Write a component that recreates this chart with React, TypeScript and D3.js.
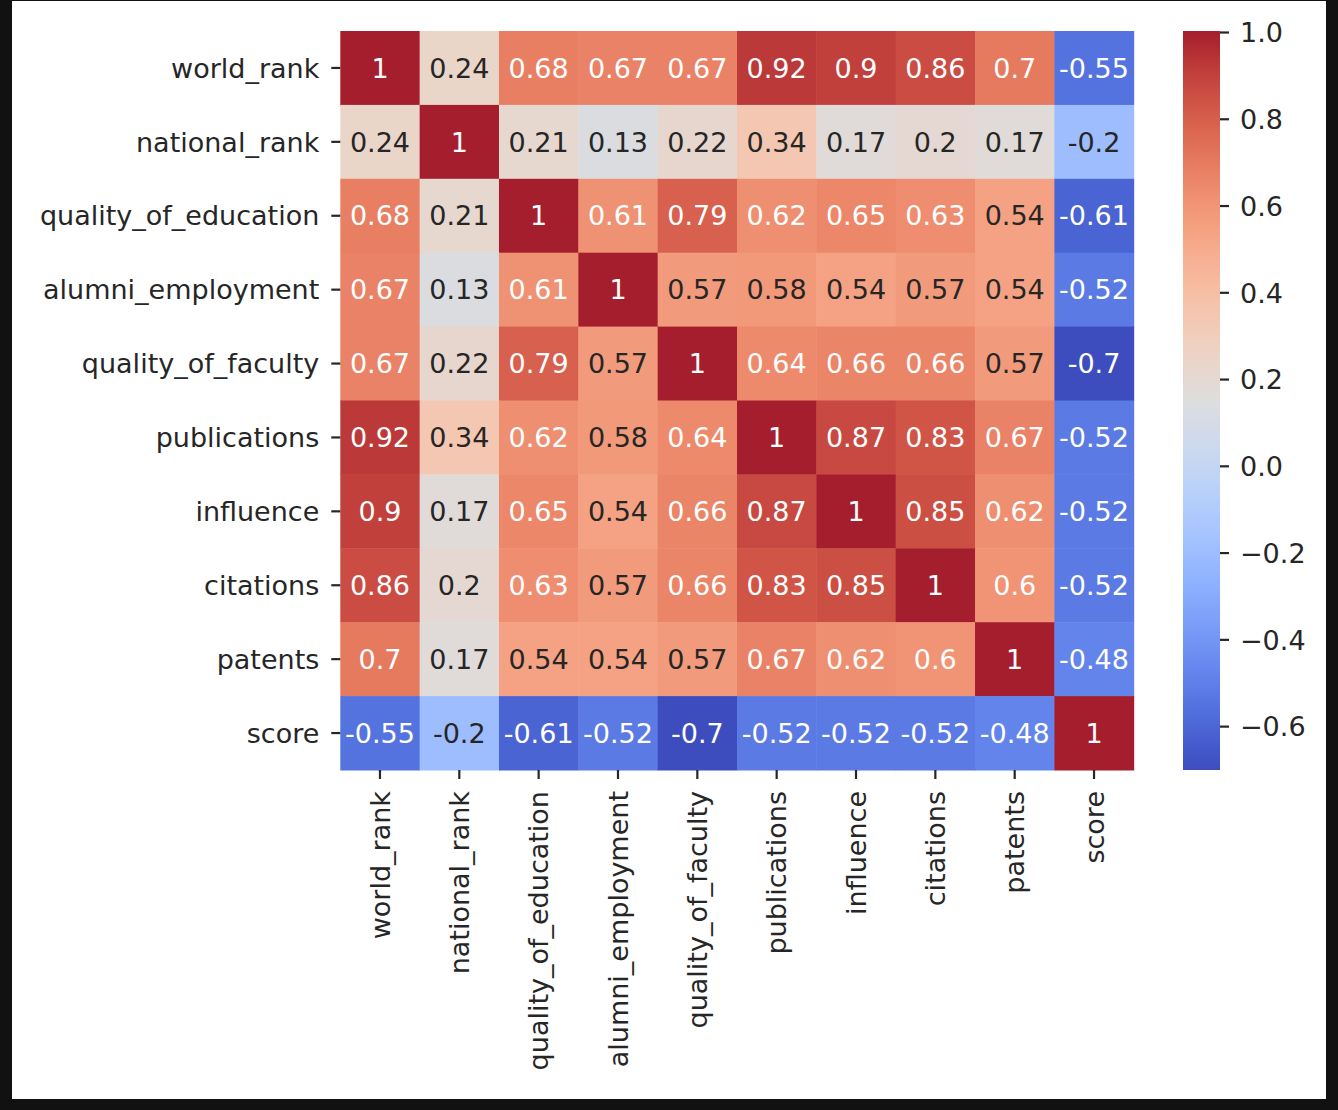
import React, {useEffect, useRef} from 'react';
import * as d3 from 'd3';

const labels = [
  'world_rank',
  'national_rank',
  'quality_of_education',
  'alumni_employment',
  'quality_of_faculty',
  'publications',
  'influence',
  'citations',
  'patents',
  'score',
];

const corrWorldRank = [1, 0.24, 0.68, 0.67, 0.67, 0.92, 0.9, 0.86, 0.7, -0.55];
const corrNationalRank = [0.24, 1, 0.21, 0.13, 0.22, 0.34, 0.17, 0.2, 0.17, -0.2];
const corrEducation = [0.68, 0.21, 1, 0.61, 0.79, 0.62, 0.65, 0.63, 0.54, -0.61];
const corrAlumni = [0.67, 0.13, 0.61, 1, 0.57, 0.58, 0.54, 0.57, 0.54, -0.52];
const corrFaculty = [0.67, 0.22, 0.79, 0.57, 1, 0.64, 0.66, 0.66, 0.57, -0.7];
const corrPublications = [0.92, 0.34, 0.62, 0.58, 0.64, 1, 0.87, 0.83, 0.67, -0.52];
const corrInfluence = [0.9, 0.17, 0.65, 0.54, 0.66, 0.87, 1, 0.85, 0.62, -0.52];
const corrCitations = [0.86, 0.2, 0.63, 0.57, 0.66, 0.83, 0.85, 1, 0.6, -0.52];
const corrPatents = [0.7, 0.17, 0.54, 0.54, 0.57, 0.67, 0.62, 0.6, 1, -0.48];
const corrScore = [-0.55, -0.2, -0.61, -0.52, -0.7, -0.52, -0.52, -0.52, -0.48, 1];

const matrix = [
  corrWorldRank,
  corrNationalRank,
  corrEducation,
  corrAlumni,
  corrFaculty,
  corrPublications,
  corrInfluence,
  corrCitations,
  corrPatents,
  corrScore,
];

const colorbarTicks = [1.0, 0.8, 0.6, 0.4, 0.2, 0.0, -0.2, -0.4, -0.6];

// coolwarm control points, 33 evenly spaced (red end toned to match the screenshot)
const coolwarmRGB: [number, number, number][] = [
  [61, 77, 190], [68, 90, 204], [77, 104, 215], [87, 117, 225],
  [98, 130, 234], [108, 142, 241], [119, 154, 247], [130, 165, 251],
  [141, 176, 254], [152, 185, 255], [163, 194, 255], [174, 201, 253],
  [184, 208, 249], [194, 213, 244], [204, 217, 238], [213, 219, 230],
  [221, 221, 221], [229, 216, 209], [236, 211, 197], [241, 204, 185],
  [245, 196, 173], [247, 187, 160], [247, 177, 148], [245, 166, 135],
  [242, 154, 123], [238, 141, 111], [232, 127, 99], [224, 112, 88],
  [216, 97, 78], [206, 82, 69], [195, 66, 61], [181, 48, 52],
  [165, 30, 45],
];

const W = 1338;
const H = 1110;
const FONT = '"DejaVu Sans", sans-serif';
const FS = 27;
const INK = '#262626';

const HeatmapChart: React.FC = () => {
  const ref = useRef<SVGSVGElement | null>(null);

  useEffect(() => {
    if (!ref.current) return;
    const svg = d3.select(ref.current);
    svg.selectAll('*').remove();

    const vmin = d3.min(matrix.flat())!;
    const vmax = d3.max(matrix.flat())!;

    const coolwarm = d3
      .scaleLinear<string>()
      .domain(coolwarmRGB.map((_, i) => i / (coolwarmRGB.length - 1)))
      .range(coolwarmRGB.map((c) => d3.rgb(c[0], c[1], c[2]).toString()))
      .interpolate(d3.interpolateRgb)
      .clamp(true);
    const norm = d3.scaleLinear().domain([vmin, vmax]).range([0, 1]).clamp(true);
    const color = (v: number) => coolwarm(norm(v));

    // seaborn-style text colour choice from relative luminance
    const lum = (c: string) => {
      const {r, g, b} = d3.rgb(c);
      const lin = (u: number) => {
        const s = u / 255;
        return s <= 0.03928 ? s / 12.92 : Math.pow((s + 0.055) / 1.055, 2.4);
      };
      return 0.2126 * lin(r) + 0.7152 * lin(g) + 0.0722 * lin(b);
    };

    // frame
    svg.append('rect').attr('width', W).attr('height', H).attr('fill', '#111111');
    svg
      .append('rect')
      .attr('x', 12)
      .attr('y', 1)
      .attr('width', 1314)
      .attr('height', 1098)
      .attr('fill', '#ffffff');

    const left = 340.3;
    const right = 1133.7;
    const top = 31;
    const bottom = 770;

    const x = d3.scaleBand<string>().domain(labels).range([left, right]);
    const y = d3.scaleBand<string>().domain(labels).range([top, bottom]);

    const cells = matrix.flatMap((row, i) =>
      row.map((v, j) => ({row: labels[i], col: labels[j], v}))
    );

    const g = svg.append('g');
    g.selectAll('rect.cell')
      .data(cells)
      .join('rect')
      .attr('class', 'cell')
      .attr('x', (d) => x(d.col)!)
      .attr('y', (d) => y(d.row)!)
      .attr('width', x.bandwidth() + 0.5)
      .attr('height', y.bandwidth() + 0.5)
      .attr('fill', (d) => color(d.v));

    g.selectAll('text.annot')
      .data(cells)
      .join('text')
      .attr('class', 'annot')
      .attr('x', (d) => x(d.col)! + x.bandwidth() / 2)
      .attr('y', (d) => y(d.row)! + y.bandwidth() / 2)
      .attr('dy', '0.36em')
      .attr('text-anchor', 'middle')
      .attr('font-family', FONT)
      .attr('font-size', FS)
      .attr('fill', (d) => (lum(color(d.v)) > 0.425 ? INK : '#ffffff'))
      .text((d) => String(d.v));

    const tickLen = 9;
    const pad = 12;

    // y axis
    const yAxis = svg.append('g');
    yAxis
      .selectAll('line')
      .data(labels)
      .join('line')
      .attr('x1', left - tickLen)
      .attr('x2', left)
      .attr('y1', (d) => y(d)! + y.bandwidth() / 2)
      .attr('y2', (d) => y(d)! + y.bandwidth() / 2)
      .attr('stroke', INK)
      .attr('stroke-width', 2.2);
    yAxis
      .selectAll('text')
      .data(labels)
      .join('text')
      .attr('x', left - tickLen - pad)
      .attr('y', (d) => y(d)! + y.bandwidth() / 2)
      .attr('dy', '0.36em')
      .attr('text-anchor', 'end')
      .attr('font-family', FONT)
      .attr('font-size', FS)
      .attr('fill', INK)
      .text((d) => d);

    // x axis
    const xAxis = svg.append('g');
    xAxis
      .selectAll('line')
      .data(labels)
      .join('line')
      .attr('x1', (d) => x(d)! + x.bandwidth() / 2)
      .attr('x2', (d) => x(d)! + x.bandwidth() / 2)
      .attr('y1', bottom)
      .attr('y2', bottom + tickLen)
      .attr('stroke', INK)
      .attr('stroke-width', 2.2);
    xAxis
      .selectAll('text')
      .data(labels)
      .join('text')
      .attr(
        'transform',
        (d) => `translate(${x(d)! + x.bandwidth() / 2},${bottom + tickLen + pad}) rotate(-90)`
      )
      .attr('dy', '0.36em')
      .attr('text-anchor', 'end')
      .attr('font-family', FONT)
      .attr('font-size', FS)
      .attr('fill', INK)
      .text((d) => d);

    // colorbar
    const cbLeft = 1183;
    const cbRight = 1220;
    const cbScale = d3.scaleLinear().domain([vmin, vmax]).range([bottom, top + 1.5]);

    const grad = svg
      .append('defs')
      .append('linearGradient')
      .attr('id', 'cbgrad')
      .attr('x1', 0)
      .attr('y1', 1)
      .attr('x2', 0)
      .attr('y2', 0);
    grad
      .selectAll('stop')
      .data(d3.range(0, 1.0001, 1 / 64))
      .join('stop')
      .attr('offset', (d) => d)
      .attr('stop-color', (d) => coolwarm(d));

    svg
      .append('rect')
      .attr('x', cbLeft)
      .attr('y', top)
      .attr('width', cbRight - cbLeft)
      .attr('height', bottom - top)
      .attr('fill', 'url(#cbgrad)');

    const cb = svg.append('g');
    cb.selectAll('line')
      .data(colorbarTicks)
      .join('line')
      .attr('x1', cbRight)
      .attr('x2', cbRight + tickLen)
      .attr('y1', (d) => cbScale(d))
      .attr('y2', (d) => cbScale(d))
      .attr('stroke', INK)
      .attr('stroke-width', 2.2);
    cb.selectAll('text')
      .data(colorbarTicks)
      .join('text')
      .attr('x', cbRight + tickLen + 11)
      .attr('y', (d) => cbScale(d))
      .attr('dy', '0.36em')
      .attr('font-family', FONT)
      .attr('font-size', FS)
      .attr('fill', INK)
      .text((d) => d3.format('.1f')(d).replace('-', '\u2212'));
  }, []);

  return (
    <svg
      ref={ref}
      width={W}
      height={H}
      style={{position: 'absolute', left: 0, top: 0, display: 'block'}}
    ></svg>
  );
};

export default function App() {
  return <HeatmapChart />;
}
